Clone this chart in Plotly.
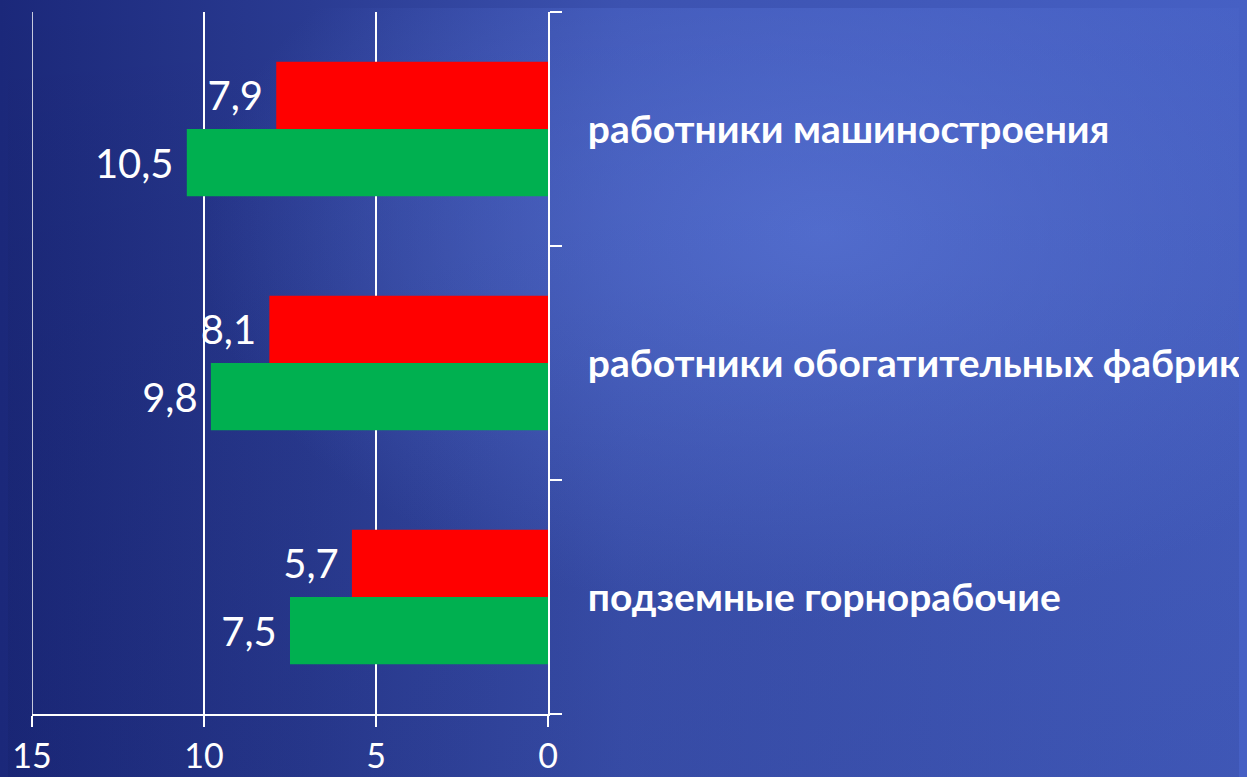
import base64
import plotly.graph_objects as go

categories = ["подземные горнорабочие", "работники обогатительных фабрик", "работники машиностроения"]
green_values = [7.5, 9.8, 10.5]
red_values = [5.7, 8.1, 7.9]
x_ticks = [0, 5, 10, 15]

# the page body has an 8px margin: size the figure so the page does not overflow
OFF = 8
W, H = 1247 - OFF, 777 - OFF
L, R, T, B = 32 - OFF, 699, 12 - OFF, 63
PW, PH = W - L - R, H - T - B
FW, FH = 1247, 777  # full window, for the background picture

stops_lin = [("0", "#1b287a"), ("0.25", "#2a3b92"), ("0.5", "#3c52b0"), ("1", "#4660c4")]
svg = f'''<svg xmlns="http://www.w3.org/2000/svg" width="{FW}" height="{FH}" viewBox="0 0 {FW} {FH}" preserveAspectRatio="none">
<defs>
<linearGradient id="lg" x1="0" y1="0" x2="1" y2="0">
{"".join(f'<stop offset="{o}" stop-color="{c}"/>' for o, c in stops_lin)}
</linearGradient>
<radialGradient id="rg" cx="0.66" cy="0.3" r="0.5">
<stop offset="0" stop-color="#5874d8" stop-opacity="0.85"/>
<stop offset="1" stop-color="#5874d8" stop-opacity="0"/>
</radialGradient>
<linearGradient id="vg" x1="0" y1="0" x2="0" y2="1">
<stop offset="0" stop-color="#000" stop-opacity="0"/>
<stop offset="1" stop-color="#0a1450" stop-opacity="0.12"/>
</linearGradient>
</defs>
<rect width="{FW}" height="{FH}" fill="url(#lg)"/>
<rect width="{FW}" height="{FH}" fill="url(#rg)"/>
<rect width="{FW}" height="{FH}" fill="url(#vg)"/>
</svg>'''
src = "data:image/svg+xml;base64," + base64.b64encode(svg.encode()).decode()

label_font = dict(color="white", size=40, family="Lato, Open Sans, sans-serif")

fig = go.Figure()
fig.add_trace(go.Bar(
    y=categories, x=green_values, orientation="h", marker_color="#00b050",
    marker_line_width=0, texttemplate="%{x:.1f}\u00a0", textposition="outside",
    textfont=label_font, cliponaxis=False, hoverinfo="skip",
))
fig.add_trace(go.Bar(
    y=categories, x=red_values, orientation="h", marker_color="#ff0000",
    marker_line_width=0, texttemplate="%{x:.1f}\u00a0", textposition="outside",
    textfont=label_font, cliponaxis=False, hoverinfo="skip",
))

fig.update_layout(
    width=W, height=H,
    margin=dict(l=L, r=R, t=T, b=B, pad=0, autoexpand=False),
    paper_bgcolor="rgba(0,0,0,0)",
    plot_bgcolor="rgba(0,0,0,0)",
    barmode="group", bargap=0.425, bargroupgap=0,
    showlegend=False,
    separators=", ",
    font=dict(family="Lato, Open Sans, sans-serif", color="white"),
    images=[dict(source=src, xref="paper", yref="paper",
                 x=-(L + OFF) / PW, y=1 + (T + OFF) / PH, sizex=FW / PW, sizey=FH / PH,
                 xanchor="left", yanchor="top", sizing="stretch", layer="below")],
    shapes=[dict(type="line", xref="x", yref="paper", x0=x_ticks[-1], x1=x_ticks[-1],
                 y0=0, y1=1, line=dict(color="white", width=1.5), layer="below")],
)
fig.update_xaxes(
    range=[15, 0], tickvals=x_ticks, ticktext=[str(v) for v in x_ticks],
    showgrid=True, gridcolor="white", gridwidth=1.5,
    showline=True, linecolor="white", linewidth=2,
    ticks="outside", ticklen=11, tickcolor="white", tickwidth=2,
    tickfont=dict(size=34, color="white"), zeroline=False,
    automargin=False,
)
fig.update_yaxes(
    side="right", categoryorder="array", categoryarray=categories,
    range=[-0.5, 2.5], showgrid=False, zeroline=False,
    showline=True, linecolor="white", linewidth=2,
    ticks="outside", tickson="boundaries", ticklen=12, tickcolor="white", tickwidth=2,
    tickfont=dict(size=39, color="white", family="Lato, Open Sans, sans-serif", weight="bold"),
    ticklabelstandoff=30, automargin=False,
)
bg_css = "linear-gradient(90deg,#1b287a 0%,#2a3b92 25%,#3c52b0 50%,#4660c4 100%)"
fig.write_html(
    "out.html",
    config=dict(displayModeBar=False),
    post_script=f"document.documentElement.style.background='{bg_css}';",
)
